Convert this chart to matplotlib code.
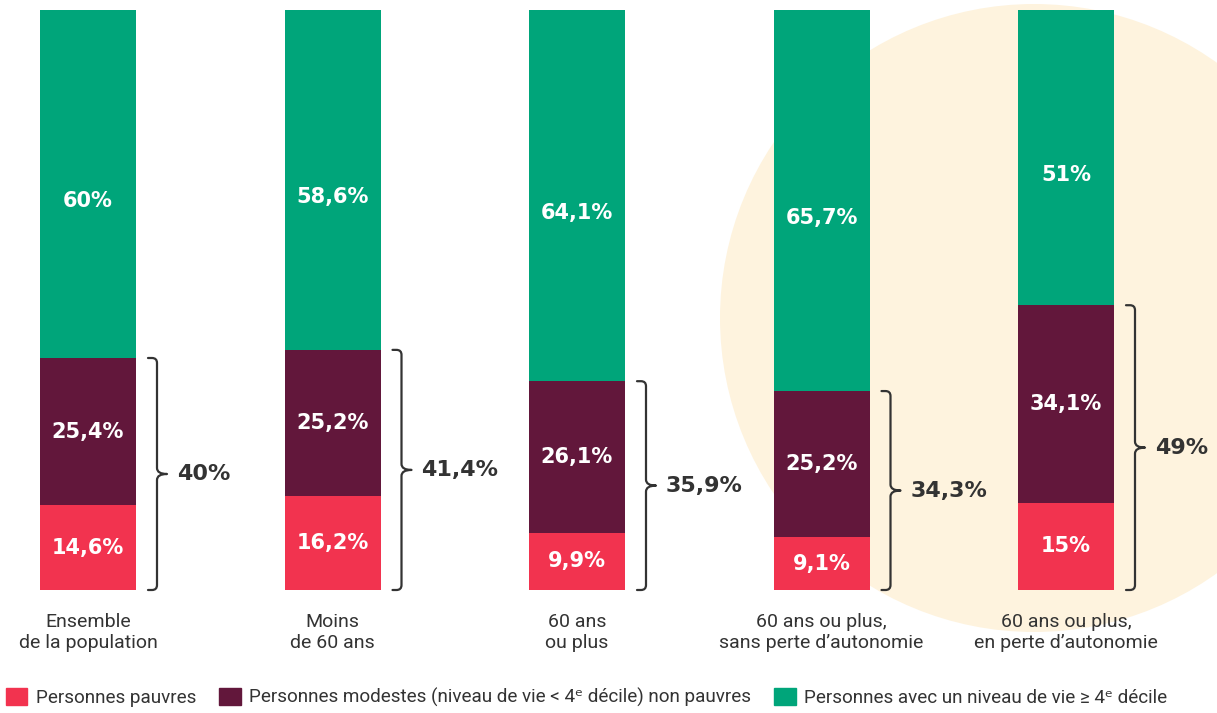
import matplotlib.pyplot as plt
import numpy as np
from matplotlib.patches import Ellipse, Patch
from matplotlib.path import Path
from matplotlib.patches import PathPatch

plt.rcParams.update({
    'font.family': ['Roboto', 'DejaVu Sans'],
})

# Data
categories = ['Ensemble\nde la population', 'Moins\nde 60 ans', '60 ans\nou plus',
              '60 ans ou plus,\nsans perte d\u2019autonomie',
              '60 ans ou plus,\nen perte d\u2019autonomie']
pauvres = [14.6, 16.2, 9.9, 9.1, 15.0]
modestes = [25.4, 25.2, 26.1, 25.2, 34.1]
aises = [60.0, 58.6, 64.1, 65.7, 51.0]
totals = [40.0, 41.4, 35.9, 34.3, 49.0]
series_names = ['Personnes pauvres',
                'Personnes modestes (niveau de vie < 4\u1d49 d\u00e9cile) non pauvres',
                'Personnes avec un niveau de vie \u2265 4\u1d49 d\u00e9cile']

c_red = '#F2334F'
c_purple = '#62173B'
c_green = '#00A57A'
c_text = '#333333'
c_circle = '#FEF3DE'

def fmt(v):
    s = f'{v:.1f}'.replace('.', ',')
    return s[:-2] + '%' if s.endswith(',0') else s + '%'

W, H = 1217, 713
fig = plt.figure(figsize=(W / 100, H / 100), dpi=100)
ax = fig.add_axes([0, 123 / H, 1, 580 / H])
ax.set_xlim(-88 / 244.5, (W - 88) / 244.5)
ax.set_ylim(0, 100)
ax.axis('off')

# px -> data unit conversion
px_x = 1 / 244.5
px_y = 100 / 580

# background circle
ax.add_patch(Ellipse(((1034 - 88) * px_x, (590 - 318) * px_y), 2 * 314 * px_x, 2 * 314 * px_y,
                     facecolor=c_circle, edgecolor='none', zorder=0, clip_on=False))

x = np.arange(len(categories))
bw = 96 * px_x
p = np.array(pauvres)
m = np.array(modestes)
a = np.array(aises)
ax.bar(x, p, bw, color=c_red, zorder=2)
ax.bar(x, m, bw, bottom=p, color=c_purple, zorder=2)
ax.bar(x, a, bw, bottom=p + m, color=c_green, zorder=2)

lab_kw = dict(ha='center', va='center', color='white', fontsize=15,
              fontweight='bold', family='DejaVu Sans', zorder=3)
for i in range(len(x)):
    ax.text(x[i], p[i] / 2, fmt(p[i]), **lab_kw)
    ax.text(x[i], p[i] + m[i] / 2, fmt(m[i]), **lab_kw)
    ax.text(x[i], p[i] + m[i] + a[i] / 2 - 3, fmt(a[i]), **lab_kw)

# curly brackets
for i in range(len(x)):
    e = x[i] + bw / 2
    top = p[i] + m[i]
    bot = 0
    mid = (top + bot) / 2
    h0, v, t, r = e + 12 * px_x, e + 21 * px_x, e + 31 * px_x, 5
    verts = [(h0, top), (v - r * px_x, top), (v, top), (v, top - r * px_y),
             (v, mid + 6 * px_y), (v, mid), (t, mid),
             (v, mid), (v, mid - 6 * px_y),
             (v, bot + r * px_y), (v, bot), (v - r * px_x, bot), (h0, bot)]
    codes = [Path.MOVETO, Path.LINETO, Path.CURVE3, Path.CURVE3,
             Path.LINETO, Path.CURVE3, Path.CURVE3,
             Path.CURVE3, Path.CURVE3,
             Path.LINETO, Path.CURVE3, Path.CURVE3, Path.LINETO]
    ax.add_patch(PathPatch(Path(verts, codes), facecolor='none', edgecolor=c_text,
                           lw=1.6, capstyle='round', joinstyle='round', zorder=3,
                           clip_on=False))
    ax.text(e + 41 * px_x, mid, fmt(totals[i]), ha='left', va='center',
            color=c_text, fontsize=16, fontweight='bold', family='DejaVu Sans')

# category labels
for i in range(len(x)):
    ax.text(x[i], -4.0, categories[i], ha='center', va='top', color=c_text,
            fontsize=14, linespacing=1.2)

handles = [Patch(color=c) for c in (c_red, c_purple, c_green)]
fig.legend(handles, series_names, loc='lower left', bbox_to_anchor=(0.0, 0.0),
           ncol=3, frameon=False, fontsize=13.6, handlelength=1.15, handleheight=1.0,
           handletextpad=0.45, columnspacing=1.2, borderaxespad=0.05, borderpad=0.25,
           labelcolor=c_text)

fig.savefig('out.png', dpi=100)
